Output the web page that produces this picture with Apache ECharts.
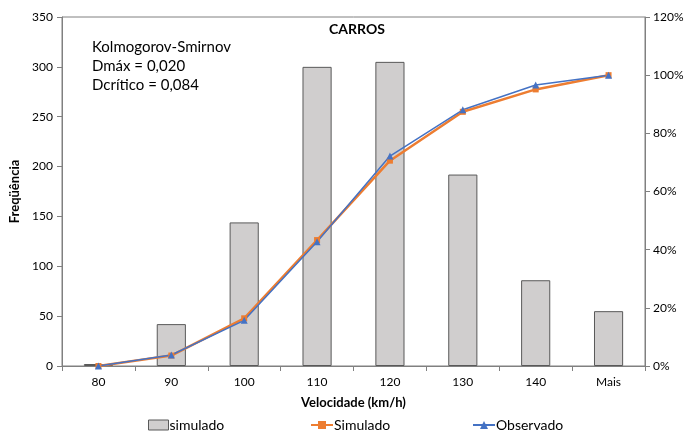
<!DOCTYPE html>
<html>
<head>
<meta charset="utf-8">
<script src="https://cdn.jsdelivr.net/npm/echarts@6/dist/echarts.min.js"></script>
<style>
  html, body { margin: 0; padding: 0; background: #fff; }
  #chart { width: 687px; height: 432px; }
</style>
</head>
<body>
<div id="chart"></div>
<script>
// categorias de velocidade
const categorias = ['80', '90', '100', '110', '120', '130', '140', 'Mais'];
// frequencia simulada (barras)
const freqSimulado = [2, 42, 144, 300, 305, 192, 86, 55];
// acumulado (%)
const acumSimulado = [0, 3.6, 16.4, 43.3, 70.6, 87.4, 95.1, 100];
const acumObservado = [0, 3.8, 15.7, 42.7, 72.2, 88.1, 96.6, 100];

const fonte = 'Lato';
const chart = echarts.init(document.getElementById('chart'));

const option = {
  animation: false,
  backgroundColor: '#fff',
  textStyle: { fontFamily: fonte },
  title: [
    {
      text: 'CARROS',
      left: 357, top: 22,
      padding: 0,
      textAlign: 'center',
      textStyle: { fontFamily: fonte, fontSize: 14, fontWeight: 'bold', color: '#000' }
    },
    {
      text: 'Kolmogorov-Smirnov\nDmáx = 0,020\nDcrítico = 0,084',
      left: 92, top: 38,
      padding: 0,
      textStyle: { fontFamily: fonte, fontSize: 15, fontWeight: 'normal', color: '#000', lineHeight: 19 }
    }
  ],
  legend: [
    {
      data: [{ name: 'simulado', icon: 'rect' }],
      left: 143, top: 413,
      itemWidth: 20, itemHeight: 10,
      itemStyle: { borderColor: '#595959', borderWidth: 1 },
      textStyle: { fontFamily: fonte, fontSize: 14, color: '#000', padding: [0, 0, 0, -4] }
    },
    {
      data: ['Simulado'],
      left: 305, top: 413,
      itemWidth: 22, itemHeight: 10,
      textStyle: { fontFamily: fonte, fontSize: 14, color: '#000', padding: [0, 0, 0, -4] }
    },
    {
      data: ['Observado'],
      left: 467, top: 413,
      itemWidth: 22, itemHeight: 10,
      textStyle: { fontFamily: fonte, fontSize: 14, color: '#000', padding: [0, 0, 0, -4] }
    }
  ],
  grid: {
    left: 62, right: 42, top: 17, bottom: 66,
    show: true, borderColor: '#808080', borderWidth: 1
  },
  xAxis: {
    type: 'category',
    data: categorias,
    name: 'Velocidade (km/h)',
    nameLocation: 'middle',
    nameGap: 30,
    nameTextStyle: { fontFamily: fonte, fontSize: 13, fontWeight: 'bold', color: '#000' },
    axisLine: { lineStyle: { color: '#808080' } },
    axisTick: { show: true, alignWithLabel: false, length: 5, lineStyle: { color: '#808080' } },
    axisLabel: { color: '#000', fontSize: 12, margin: 10, fontFamily: fonte }
  },
  yAxis: [
    {
      type: 'value',
      min: 0, max: 350, interval: 50,
      name: 'Freqüência',
      nameLocation: 'middle',
      nameGap: 36,
      nameRotate: 90,
      nameTextStyle: { fontFamily: fonte, fontSize: 13, fontWeight: 'bold', color: '#000' },
      axisLine: { show: true, lineStyle: { color: '#808080' } },
      axisTick: { show: true, length: 5, lineStyle: { color: '#808080' } },
      splitLine: { show: false },
      axisLabel: { color: '#000', fontSize: 12, margin: 9, fontFamily: fonte }
    },
    {
      type: 'value',
      min: 0, max: 120, interval: 20,
      position: 'right',
      axisLine: { show: true, lineStyle: { color: '#808080' } },
      axisTick: { show: true, length: 5, lineStyle: { color: '#808080' } },
      splitLine: { show: false },
      axisLabel: { color: '#000', fontSize: 12, margin: 8, fontFamily: fonte, formatter: '{value}%' }
    }
  ],
  series: [
    {
      name: 'simulado',
      type: 'bar',
      data: freqSimulado,
      barWidth: '40%',
      itemStyle: { color: '#d0cece', borderColor: '#595959', borderWidth: 1 }
    },
    {
      name: 'Simulado',
      type: 'line',
      yAxisIndex: 1,
      data: acumSimulado,
      symbol: 'rect',
      symbolSize: 6,
      lineStyle: { color: '#ED7D31', width: 2.5 },
      itemStyle: { color: '#ED7D31' }
    },
    {
      name: 'Observado',
      type: 'line',
      yAxisIndex: 1,
      data: acumObservado,
      symbol: 'triangle',
      symbolSize: 7,
      lineStyle: { color: '#4472C4', width: 1.5 },
      itemStyle: { color: '#4472C4' }
    }
  ]
};

chart.setOption(option);
</script>
</body>
</html>
